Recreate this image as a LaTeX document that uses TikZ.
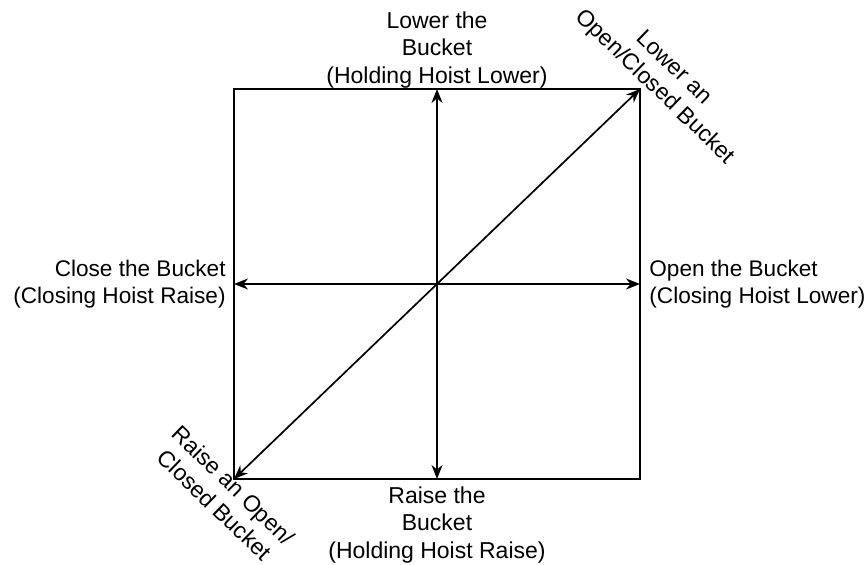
\documentclass[tikz,border=0pt]{standalone}
\usepackage{fontspec}
\setmainfont{Liberation Sans}
\usetikzlibrary{positioning,arrows.meta}

\tikzset{
  lbl/.style={font=\fontsize{11.5}{13.6}\selectfont, inner sep=0pt, align=center},
  dirarrow/.style={line width=0.85pt, {Stealth[length=7pt,width=5.5pt]}-{Stealth[length=7pt,width=5.5pt]}}
}

\begin{document}
\begin{tikzpicture}[x=0.5pt,y=-0.5pt]
  \useasboundingbox (0,0) rectangle (867,565);
  % the frame
  \coordinate (sw) at (234,479);
  \coordinate (ne) at (640,89);
  \coordinate (nw) at (234,89);
  \coordinate (se) at (640,479);
  \coordinate (n) at (437,89);
  \coordinate (s) at (437,479);
  \coordinate (w) at (234,284);
  \coordinate (e) at (640,284);
  \draw[line width=1.2pt] (nw) rectangle (se);
  % motions
  \draw[dirarrow] (s) -- (n);
  \draw[dirarrow] (w) -- (e);
  \draw[dirarrow] (sw) -- (ne);
  % labels
  \node[lbl] (top) at (437,50) {Lower the\\Bucket\\(Holding Hoist Lower)};
  \node[lbl] (bottom) at (437,525) {Raise the\\Bucket\\(Holding Hoist Raise)};
  \node[lbl, align=right, anchor=east, font=\fontsize{11.3}{13.6}\selectfont] (left) at (226,284) {Close the Bucket\\(Closing Hoist Raise)};
  \node[lbl, align=left, anchor=west, font=\fontsize{11.3}{13.6}\selectfont] (right) at (649,284) {Open the Bucket\\(Closing Hoist Lower)};
  \node[lbl, rotate=-44] (topright) at (664,78) {Lower an\\Open/Closed Bucket};
  \node[lbl, rotate=-44] (bottomleft) at (224,495) {Raise an Open/\\Closed Bucket};
\end{tikzpicture}
\end{document}
